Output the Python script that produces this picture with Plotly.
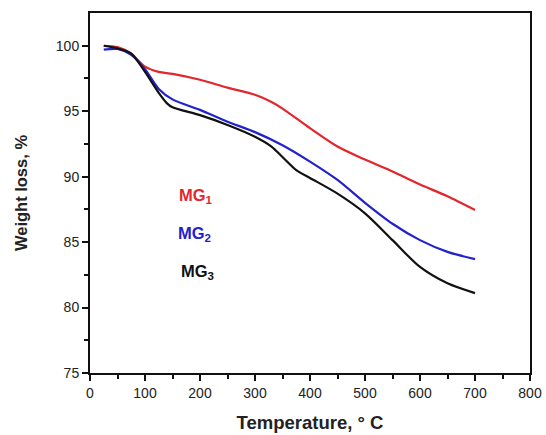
import plotly.graph_objects as go

# Temperature grid (°C) and weight-loss readings for each sample
temp_mg1 = [25, 50, 75, 100, 125, 150, 200, 250, 300, 330, 350, 400, 450, 500, 550, 600, 650, 700]
wl_mg1 = [100.0, 99.9, 99.4, 98.4, 98.0, 97.85, 97.4, 96.8, 96.25, 95.7, 95.2, 93.7, 92.3, 91.3, 90.4, 89.4, 88.5, 87.45]

temp_mg2 = [25, 50, 75, 100, 125, 150, 200, 250, 300, 350, 400, 450, 500, 550, 600, 650, 700]
wl_mg2 = [99.7, 99.75, 99.3, 98.2, 96.7, 95.9, 95.1, 94.2, 93.4, 92.4, 91.15, 89.75, 88.0, 86.4, 85.15, 84.25, 83.7]

temp_mg3 = [25, 50, 75, 100, 125, 140, 150, 200, 250, 300, 330, 350, 375, 400, 450, 500, 550, 600, 650, 700]
wl_mg3 = [100.0, 99.8, 99.4, 98.0, 96.4, 95.6, 95.3, 94.7, 93.95, 93.05, 92.3, 91.5, 90.5, 89.9, 88.7, 87.2, 85.15, 83.1, 81.85, 81.1]

series_names = ["MG<sub>1</sub>", "MG<sub>2</sub>", "MG<sub>3</sub>"]
series_colors = ["#e3262b", "#2222cc", "#111111"]
label_pos = [(192, 88.5), (190, 85.6), (195, 82.75)]

fig = go.Figure()
for tx, wy, c in zip([temp_mg1, temp_mg2, temp_mg3], [wl_mg1, wl_mg2, wl_mg3], series_colors):
    fig.add_trace(go.Scatter(x=tx, y=wy, mode="lines", line=dict(color=c, width=2.2, shape="spline", smoothing=0.8),
                             showlegend=False))

for name, c, (lx, ly) in zip(series_names, series_colors, label_pos):
    fig.add_annotation(x=lx, y=ly, text=f"<b>{name}</b>", showarrow=False,
                       font=dict(family="Liberation Sans, Arial", size=16.5, color=c))

axis_font = dict(family="Liberation Sans, Arial", size=14, color="#222")
fig.update_xaxes(range=[0, 800], tickvals=[0, 100, 200, 300, 400, 500, 600, 700, 800],
                 ticks="outside", ticklen=6, tickwidth=1.5, tickcolor="#111",
                 minor=dict(tickvals=[50, 150, 250, 350, 450, 550, 650, 750], ticks="outside", ticklen=4, tickcolor="#111"),
                 showline=True, linecolor="#111", linewidth=2, mirror=True, showgrid=False, zeroline=False,
                 tickfont=axis_font, automargin=False,
                 title=dict(text="<b>Temperature, ° C</b>", font=dict(family="Liberation Sans, Arial", size=18.5, color="#222"),
                            standoff=16))
fig.update_yaxes(range=[75, 102.5], tickvals=[75, 80, 85, 90, 95, 100],
                 ticks="outside", ticklen=6, tickwidth=1.5, tickcolor="#111",
                 minor=dict(tickvals=[77.5, 82.5, 87.5, 92.5, 97.5], ticks="outside", ticklen=4, tickcolor="#111"),
                 showline=True, linecolor="#111", linewidth=2, mirror=True, showgrid=False, zeroline=False,
                 tickfont=axis_font, automargin=False,
                 title=dict(text="<b>Weight loss, %</b>", font=dict(family="Liberation Sans, Arial", size=16.5, color="#222"),
                            standoff=24))

fig.update_layout(width=546, height=435, margin=dict(l=90, r=16, t=13, b=62),
                  plot_bgcolor="white", paper_bgcolor="white")

fig.write_html("out.html")
